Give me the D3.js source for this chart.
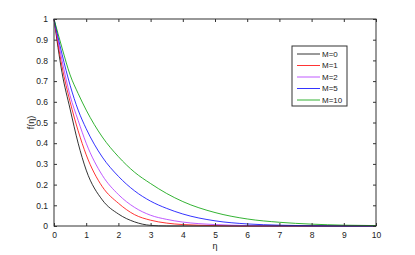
<!DOCTYPE html>
<html>
<head>
<meta charset="utf-8">
<script src="https://cdn.jsdelivr.net/npm/d3@7"></script>
<style>
  body { margin: 0; background: #fff; }
  svg { display: block; font-family: "Liberation Sans", Arial, sans-serif; }
</style>
</head>
<body>
<div id="wrapper"></div>
<script>
// eta sample points
const eta = [0, 0.25, 0.5, 0.75, 1, 1.5, 2, 2.5, 3, 3.5, 4, 5, 6, 7, 8, 9, 10];

const fM0  = [1, 0.74, 0.565, 0.40, 0.27, 0.126, 0.058, 0.02, 0.003, 0, 0, 0, 0, 0, 0, 0, 0];
const fM1  = [1, 0.77, 0.60, 0.46, 0.344, 0.19, 0.11, 0.055, 0.028, 0.014, 0.007, 0.002, 0, 0, 0, 0, 0];
const fM2  = [1, 0.80, 0.63, 0.51, 0.40, 0.245, 0.152, 0.09, 0.052, 0.032, 0.019, 0.007, 0.002, 0, 0, 0, 0];
const fM5  = [1, 0.83, 0.68, 0.56, 0.47, 0.333, 0.24, 0.17, 0.12, 0.085, 0.058, 0.025, 0.01, 0.004, 0.001, 0, 0];
const fM10 = [1, 0.86, 0.73, 0.64, 0.56, 0.43, 0.335, 0.26, 0.205, 0.157, 0.118, 0.065, 0.034, 0.018, 0.009, 0.004, 0.002];

const seriesNames = ['M=0', 'M=1', 'M=2', 'M=5', 'M=10'];
const seriesValues = [fM0, fM1, fM2, fM5, fM10];
const colors = ['#000000', '#ff0000', '#b030ff', '#0000ff', '#00a000'];

const xTicks = [0, 1, 2, 3, 4, 5, 6, 7, 8, 9, 10];
const yTicks = [0, 0.1, 0.2, 0.3, 0.4, 0.5, 0.6, 0.7, 0.8, 0.9, 1];

const dimensions = {
  width: 415,
  height: 255,
  margin: { top: 19, right: 39, bottom: 29, left: 54 },
};
dimensions.boundedWidth = dimensions.width - dimensions.margin.left - dimensions.margin.right;
dimensions.boundedHeight = dimensions.height - dimensions.margin.top - dimensions.margin.bottom;

const wrapper = d3.select('#wrapper')
  .append('svg')
  .attr('width', dimensions.width)
  .attr('height', dimensions.height);

const bounds = wrapper.append('g')
  .attr('transform', `translate(${dimensions.margin.left},${dimensions.margin.top})`);

const xScale = d3.scaleLinear().domain([0, 10]).range([0, dimensions.boundedWidth]);
const yScale = d3.scaleLinear().domain([0, 1]).range([dimensions.boundedHeight, 0]);

// curves
const lineGen = d3.line()
  .x(d => xScale(d[0]))
  .y(d => yScale(d[1]))
  .curve(d3.curveMonotoneX);

seriesValues.forEach((vals, i) => {
  bounds.append('path')
    .datum(eta.map((e, j) => [e, vals[j]]))
    .attr('fill', 'none')
    .attr('stroke', colors[i])
    .attr('stroke-width', 0.8)
    .attr('d', lineGen);
});

// axes (matlab style: ticks inside, box all around)
const tickLen = 3;
const axisColor = '#333';

const styleAxis = g => {
  g.select('.domain').remove();
  g.selectAll('.tick line').attr('stroke', axisColor);
  g.selectAll('.tick text').attr('fill', '#222').style('font-size', '8.5px');
};

bounds.append('g')
  .attr('transform', `translate(0,${dimensions.boundedHeight})`)
  .call(d3.axisBottom(xScale).tickValues(xTicks).tickSizeInner(-tickLen).tickSizeOuter(0).tickPadding(6).tickFormat(d3.format('d')))
  .call(styleAxis);

bounds.append('g')
  .call(d3.axisTop(xScale).tickValues(xTicks).tickSizeInner(-tickLen).tickSizeOuter(0).tickFormat(''))
  .call(styleAxis);

bounds.append('g')
  .call(d3.axisLeft(yScale).tickValues(yTicks).tickSizeInner(-tickLen).tickSizeOuter(0).tickPadding(6).tickFormat(d => d === 0 || d === 1 ? d3.format('d')(d) : d3.format('.1f')(d)))
  .call(styleAxis);

bounds.append('g')
  .attr('transform', `translate(${dimensions.boundedWidth},0)`)
  .call(d3.axisRight(yScale).tickValues(yTicks).tickSizeInner(-tickLen).tickSizeOuter(0).tickFormat(''))
  .call(styleAxis);

// box
bounds.append('rect')
  .attr('x', 0).attr('y', 0)
  .attr('width', dimensions.boundedWidth)
  .attr('height', dimensions.boundedHeight)
  .attr('fill', 'none')
  .attr('stroke', axisColor)
  .attr('stroke-width', 1);

// axis labels
wrapper.append('text')
  .text('η')
  .attr('x', dimensions.margin.left + dimensions.boundedWidth / 2)
  .attr('y', 249)
  .attr('text-anchor', 'middle')
  .style('font-size', '9px')
  .attr('fill', '#222');

wrapper.append('text')
  .text('f(η)')
  .attr('transform', `translate(34,${dimensions.margin.top + dimensions.boundedHeight / 2}) rotate(-90)`)
  .attr('text-anchor', 'middle')
  .style('font-size', '9px')
  .attr('fill', '#222');

// legend
const legend = wrapper.append('g').attr('transform', 'translate(292,46)');
legend.append('rect')
  .attr('width', 55).attr('height', 60)
  .attr('fill', '#fff')
  .attr('stroke', axisColor)
  .attr('stroke-width', 1);

const legendItems = legend.selectAll('g.item')
  .data(seriesNames)
  .enter().append('g')
  .attr('class', 'item')
  .attr('transform', (d, i) => `translate(0,${8 + i * 11.5})`);

legendItems.append('line')
  .attr('x1', 5).attr('x2', 28)
  .attr('stroke', (d, i) => colors[i])
  .attr('stroke-width', 0.8);

legendItems.append('text')
  .text(d => d)
  .attr('x', 30)
  .attr('dy', '0.35em')
  .style('font-size', '8px')
  .attr('fill', '#222');
</script>
</body>
</html>
